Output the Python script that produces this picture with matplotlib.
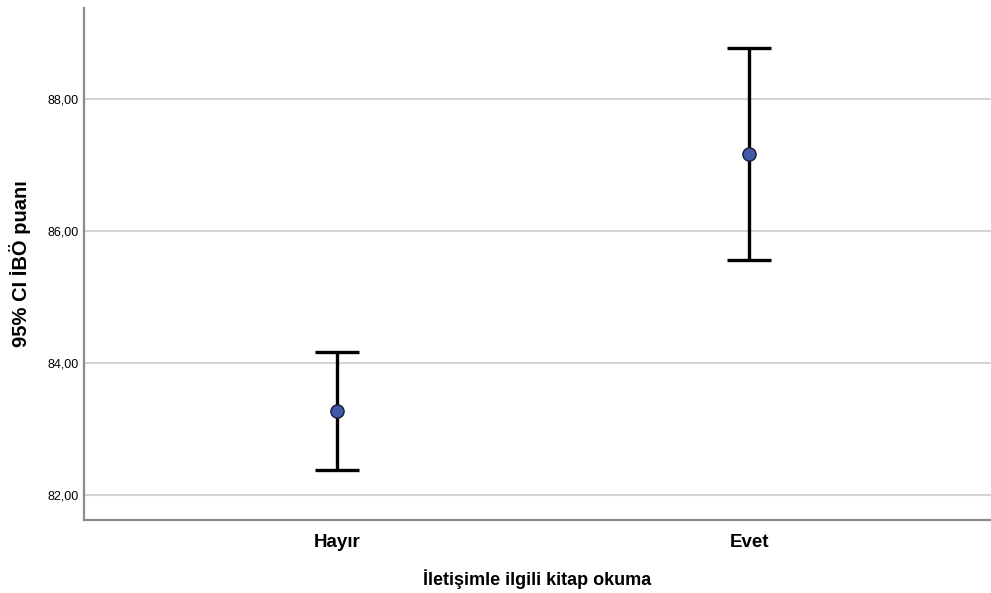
import matplotlib
matplotlib.use("Agg")
import matplotlib.pyplot as plt

plt.rcParams['font.family'] = ['Liberation Sans', 'DejaVu Sans']

groups = ["Hayır", "Evet"]
means = [83.27, 87.17]
lower = [82.38, 85.56]
upper = [84.17, 88.77]
yticks = [82, 84, 86, 88]
ytick_labels = ["82,00", "84,00", "86,00", "88,00"]

fig = plt.figure(figsize=(9.91, 5.93), dpi=100)
ax = fig.add_axes([84 / 991, 73 / 593, 907 / 991, 512 / 593])

x = list(range(len(groups)))
err_lo = [m - l for m, l in zip(means, lower)]
err_hi = [u - m for m, u in zip(means, upper)]
ax.errorbar(x, means, yerr=[err_lo, err_hi], fmt="none", ecolor="black",
            elinewidth=2.4, capsize=16, capthick=2.4, zorder=3)
ax.plot(x, means, "o", ms=9.5, mfc="#3e5aa8", mec="#1a1a33", mew=1, zorder=4)

ax.set_xlim(-0.614, 1.587)
ax.set_ylim(81.62, 89.38)
ax.set_yticks(yticks)
ax.set_yticklabels(ytick_labels, fontsize=9)
ax.set_xticks(x)
ax.set_xticklabels(groups, fontsize=13.5, fontweight="bold")
ax.tick_params(axis="both", length=0)
ax.tick_params(axis="x", pad=10)
ax.tick_params(axis="y", pad=4)

ax.grid(axis="y", color="#d4d4d4", lw=1.5, zorder=0)
ax.set_axisbelow(True)
for s in ["top", "right"]:
    ax.spines[s].set_visible(False)
for s in ["left", "bottom"]:
    ax.spines[s].set_color("#8c8c8c")
    ax.spines[s].set_linewidth(1.6)

ax.set_ylabel("95% CI İBÖ puanı", fontsize=14.5, fontweight="bold", labelpad=12)
ax.set_xlabel("İletişimle ilgili kitap okuma", fontsize=13, fontweight="bold", labelpad=13)

fig.savefig("out.png", dpi=100)
